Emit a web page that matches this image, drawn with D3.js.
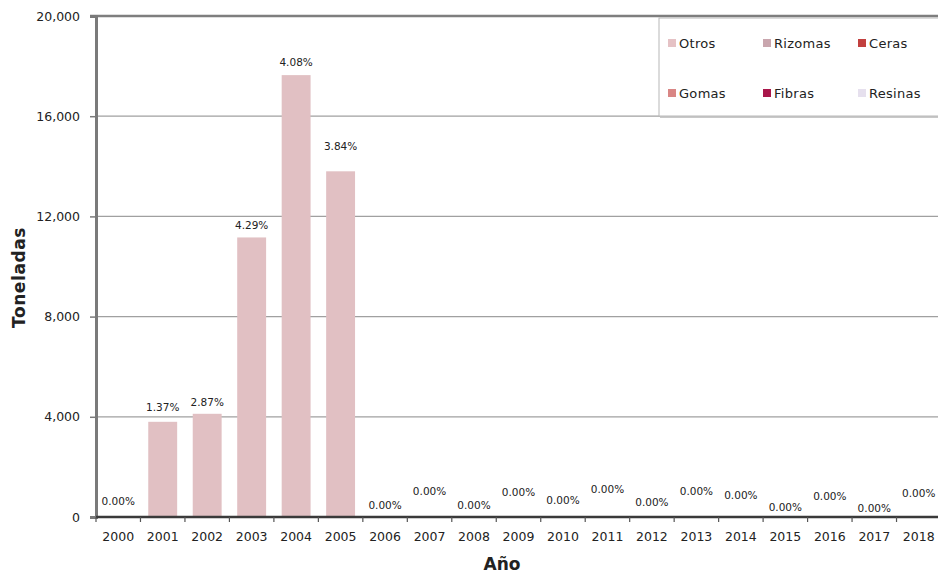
<!DOCTYPE html>
<html>
<head>
<meta charset="utf-8">
<script src="https://cdn.jsdelivr.net/npm/d3@7"></script>
<style>
  body { margin: 0; background: #fff; }
  text { font-family: "DejaVu Sans", "Noto Sans", sans-serif; fill: #222; }
</style>
</head>
<body>
<div class="canvas"></div>
<script>
const years = ["2000","2001","2002","2003","2004","2005","2006","2007","2008","2009",
  "2010","2011","2012","2013","2014","2015","2016","2017","2018"];
const otros = [0, 3800, 4120, 11160, 17640, 13800, 0, 0, 0, 0, 0, 0, 0, 0, 0, 0, 0, 0, 0];
const shares = ["0.00%","1.37%","2.87%","4.29%","4.08%","3.84%","0.00%","0.00%","0.00%","0.00%",
  "0.00%","0.00%","0.00%","0.00%","0.00%","0.00%","0.00%","0.00%","0.00%"];
const yTicks = [0, 4000, 8000, 12000, 16000, 20000];
const legendNames = ["Otros", "Rizomas", "Ceras", "Gomas", "Fibras", "Resinas"];
const legendColors = ["#e5c2c5", "#c9a6ae", "#c2403f", "#d98685", "#a9174b", "#e6e0ee"];

// label lift above bar top (px), as placed in the original
const labelLift = [16, 15, 12, 12, 13, 25, 12, 26, 12, 25, 17, 28, 15, 26, 22, 10, 21, 9, 24];

const dims = { width: 938, height: 574 };
const m = { top: 16, right: -3, bottom: 57, left: 96 };

const svg = d3.select(".canvas").append("svg")
  .attr("width", dims.width)
  .attr("height", dims.height);

const x = d3.scaleBand()
  .domain(years)
  .range([m.left, dims.width - m.right])
  .paddingInner(0.35)
  .paddingOuter(0.175);

const y = d3.scaleLinear()
  .domain([0, 20000])
  .range([dims.height - m.bottom, m.top]);

// gridlines
svg.append("g")
  .selectAll("line")
  .data(yTicks.filter(d => d > 0 && d < 20000))
  .join("line")
  .attr("x1", m.left)
  .attr("x2", dims.width)
  .attr("y1", d => y(d))
  .attr("y2", d => y(d))
  .attr("stroke", "#a0a0a0")
  .attr("stroke-width", 1.2);

// top border
svg.append("line")
  .attr("x1", m.left - 6).attr("x2", dims.width)
  .attr("y1", y(20000)).attr("y2", y(20000))
  .attr("stroke", "#7e7e7e").attr("stroke-width", 2.5);

// bars
svg.append("g")
  .selectAll("rect")
  .data(otros)
  .join("rect")
  .attr("x", (d, i) => x(years[i]))
  .attr("width", x.bandwidth())
  .attr("y", d => y(d))
  .attr("height", d => y(0) - y(d))
  .attr("fill", "#e1c0c3");

// y axis
const yAxis = svg.append("g")
  .attr("transform", `translate(${m.left},0)`)
  .call(d3.axisLeft(y).tickValues(yTicks).tickFormat(d3.format(",")).tickSize(6).tickPadding(10));
yAxis.select(".domain").attr("stroke", "#7a7a7a").attr("stroke-width", 3);
yAxis.selectAll(".tick line").attr("stroke", "#7a7a7a").attr("stroke-width", 1.5);
yAxis.selectAll("text")
  .attr("font-size", 12.5)
  .attr("font-family", "DejaVu Sans, sans-serif")
  .attr("fill", "#222")
  .attr("text-anchor", "end");

// x axis
const step = x.step();
const xAxis = svg.append("g")
  .attr("transform", `translate(0,${y(0)})`);
xAxis.append("line")
  .attr("x1", m.left).attr("x2", dims.width)
  .attr("stroke", "#3a3a3a").attr("stroke-width", 2.5);
xAxis.selectAll(".tk")
  .data(d3.range(years.length + 1))
  .join("line")
  .attr("class", "tk")
  .attr("x1", i => m.left + i * step)
  .attr("x2", i => m.left + i * step)
  .attr("y1", 0).attr("y2", 5)
  .attr("stroke", "#555").attr("stroke-width", 1.2);
xAxis.selectAll("text")
  .data(years)
  .join("text")
  .attr("x", d => x(d) + x.bandwidth() / 2)
  .attr("y", 24)
  .attr("text-anchor", "middle")
  .attr("font-size", 12.5)
  .text(d => d);

// value labels
svg.append("g")
  .selectAll("text")
  .data(shares)
  .join("text")
  .attr("x", (d, i) => x(years[i]) + x.bandwidth() / 2)
  .attr("y", (d, i) => y(otros[i]) - labelLift[i] + 4)
  .attr("text-anchor", "middle")
  .attr("font-size", 10.5)
  .text(d => d);

// axis titles
svg.append("text")
  .attr("transform", `translate(25,${(y(0) + y(20000)) / 2 + 11}) rotate(-90)`)
  .attr("text-anchor", "middle")
  .attr("font-size", 17)
  .attr("font-weight", "bold")
  .attr("letter-spacing", 0.6)
  .attr("fill", "#111")
  .text("Toneladas");

svg.append("text")
  .attr("x", 502)
  .attr("y", 570)
  .attr("text-anchor", "middle")
  .attr("font-size", 17)
  .attr("font-weight", "bold")
  .attr("fill", "#111")
  .text("Año");

// legend
const lg = svg.append("g").attr("transform", "translate(659,18)");
lg.append("rect")
  .attr("x", 1).attr("y", 1)
  .attr("width", 290).attr("height", 99)
  .attr("fill", "#c8c8c8");
lg.append("rect")
  .attr("width", 290).attr("height", 98)
  .attr("fill", "#fff")
  .attr("stroke", "#b8b8b8").attr("stroke-width", 1);

const items = lg.selectAll(".item")
  .data(legendNames)
  .join("g")
  .attr("class", "item")
  .attr("transform", (d, i) => `translate(${9 + (i % 3) * 95},${i < 3 ? 25 : 75})`);
items.append("rect")
  .attr("x", 0).attr("y", -4)
  .attr("width", 8).attr("height", 8)
  .attr("fill", (d, i) => legendColors[i]);
items.append("text")
  .attr("x", 11).attr("y", 5)
  .attr("font-size", 13)
  .attr("letter-spacing", 0.3)
  .text(d => d);
</script>
</body>
</html>
